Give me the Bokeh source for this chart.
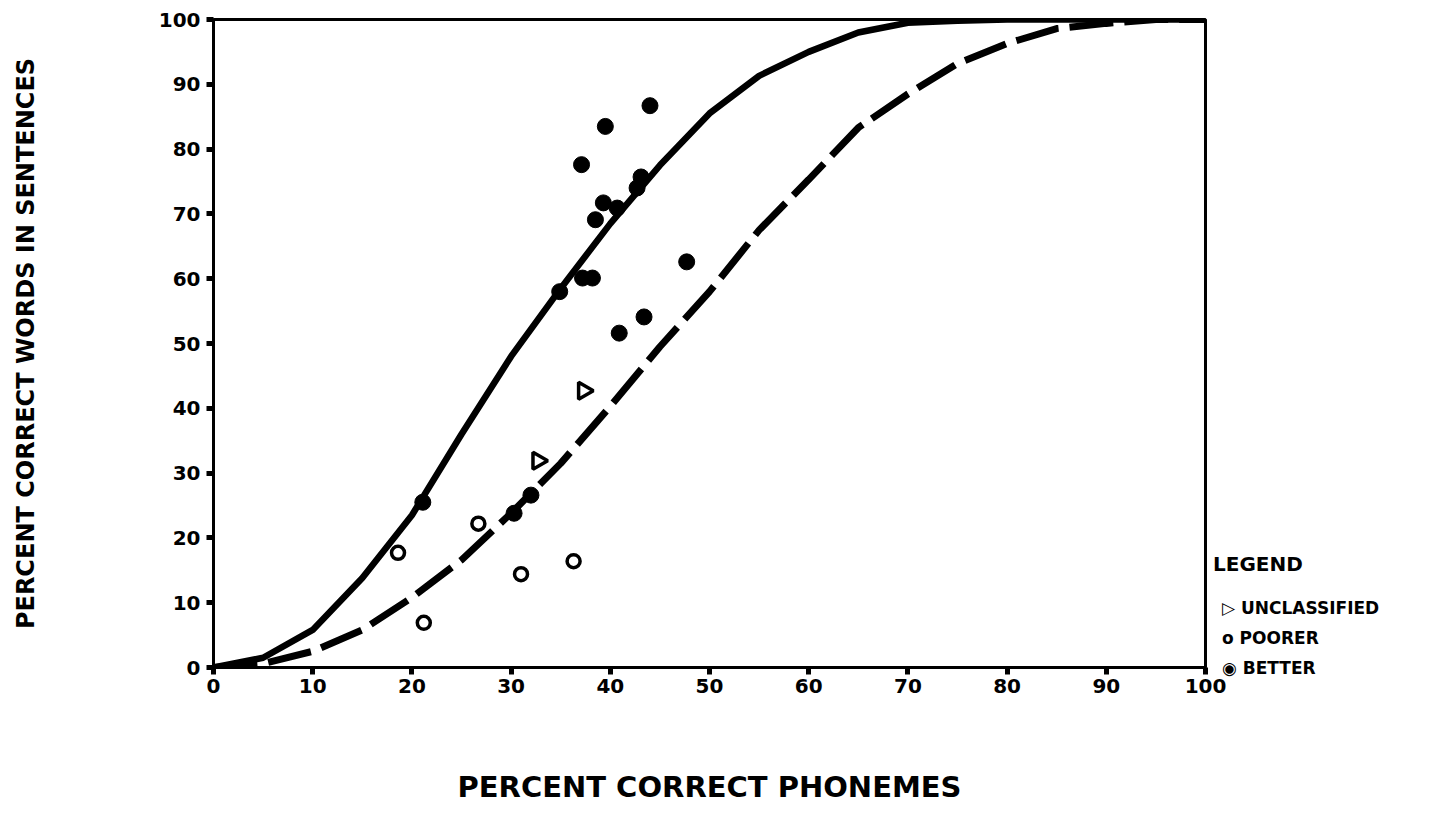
from bokeh.plotting import figure
from bokeh.models import FixedTicker, Legend, LegendItem
from bokeh.embed import file_html
from bokeh.resources import INLINE
import math

# ---- data ----
solid_x = [0, 5, 10, 15, 20, 25, 30, 35, 40, 45, 50, 55, 60, 65, 70, 75, 80, 90, 100]
solid_y = [0, 1.5, 5.8, 13.8, 23.5, 36, 48, 58.5, 68.5, 77.5, 85.5, 91.3, 95, 98.0, 99.5, 99.8, 100, 100, 100]

dash_x = [0, 5, 10, 15, 20, 25, 30, 35, 40, 45, 50, 55, 60, 65, 70, 75, 80, 85, 90, 95, 100]
dash_y = [0, 0.6, 2.5, 5.8, 10.8, 16.6, 23.8, 31.5, 40.3, 49.5, 58, 67.5, 75.3, 83.3, 88.5, 93.2, 96.3, 98.6, 99.4, 100, 100]

better_x = [21.1, 30.3, 32.0, 34.9, 37.2, 38.2, 38.5, 39.3, 40.7, 37.1, 39.5, 42.7, 43.1, 44.0, 47.7, 43.4, 40.9]
better_y = [25.5, 23.8, 26.6, 58.0, 60.1, 60.1, 69.1, 71.7, 70.9, 77.6, 83.5, 74.0, 75.7, 86.7, 62.6, 54.1, 51.6]

poorer_x = [18.6, 21.2, 26.7, 31.0, 36.3]
poorer_y = [17.7, 6.9, 22.2, 14.4, 16.4]

unclass_x = [32.7, 37.3]
unclass_y = [31.9, 42.7]

ticks = [0, 10, 20, 30, 40, 50, 60, 70, 80, 90, 100]

legend_title = "LEGEND"
legend_labels = ["\u25B7 UNCLASSIFIED", "o POORER", "\u25C9 BETTER"]

FONT = "DejaVu Sans"

p = figure(frame_width=992, frame_height=648, x_range=(0, 100), y_range=(0, 100),
           output_backend="svg", toolbar_location=None,
           min_border_left=213, min_border_right=10,
           min_border_top=19, min_border_bottom=150)
p.grid.visible = False
p.outline_line_color = "black"
p.outline_line_width = 3
p.background_fill_color = "white"
p.border_fill_color = "white"

for ax in (p.xaxis, p.yaxis):
    ax.ticker = FixedTicker(ticks=ticks)
    ax.axis_line_width = 3
    ax.axis_line_color = "black"
    ax.major_tick_in = 0
    ax.major_tick_out = 7
    ax.major_tick_line_width = 5
    ax.minor_tick_line_color = None
    ax.major_label_text_font = FONT
    ax.major_label_text_font_style = "bold"
    ax.major_label_text_font_size = "20px"
    ax.major_label_text_color = "black"
    ax.axis_label_text_font = FONT
    ax.axis_label_text_font_style = "bold"
    ax.axis_label_text_color = "black"

p.xaxis.axis_label = "PERCENT CORRECT PHONEMES"
p.xaxis.axis_label_text_font_size = "29px"
p.xaxis.axis_label_standoff = 74
p.xaxis.major_label_standoff = 4

p.yaxis.axis_label = "PERCENT CORRECT WORDS IN SENTENCES"
p.yaxis.axis_label_text_font_size = "24px"
p.yaxis.axis_label_standoff = 116
p.yaxis.major_label_standoff = 6

p.line(solid_x, solid_y, line_color="black", line_width=6.5)
p.line(dash_x, dash_y, line_color="black", line_width=7, line_dash="44 11")

p.scatter(better_x, better_y, marker="circle", size=16, fill_color="black",
          line_color="black", line_width=1)
p.scatter(poorer_x, poorer_y, marker="circle", size=13, fill_color="white",
          line_color="black", line_width=3.5)
p.scatter(unclass_x, unclass_y, marker="triangle", size=17, fill_color="white",
          line_color="black", line_width=3.5, angle=-math.pi / 2)

# invisible renderer used only to carry the text legend entries
r_blank = p.scatter([], [], marker="circle", size=1, fill_alpha=0, line_alpha=0)

legend = Legend(items=[LegendItem(label=t, renderers=[r_blank]) for t in legend_labels],
                title=legend_title, location=(8, -14),
                border_line_color=None, background_fill_alpha=0,
                padding=4, margin=8, spacing=3,
                glyph_width=1, glyph_height=27, label_height=27,
                label_standoff=8, title_standoff=18,
                label_text_font=FONT, label_text_font_style="bold",
                label_text_font_size="17px", label_text_color="black",
                title_text_font=FONT, title_text_font_style="bold",
                title_text_font_size="20px", title_text_color="black")
p.add_layout(legend, "right")

open("out.html", "w").write(file_html(p, INLINE))
